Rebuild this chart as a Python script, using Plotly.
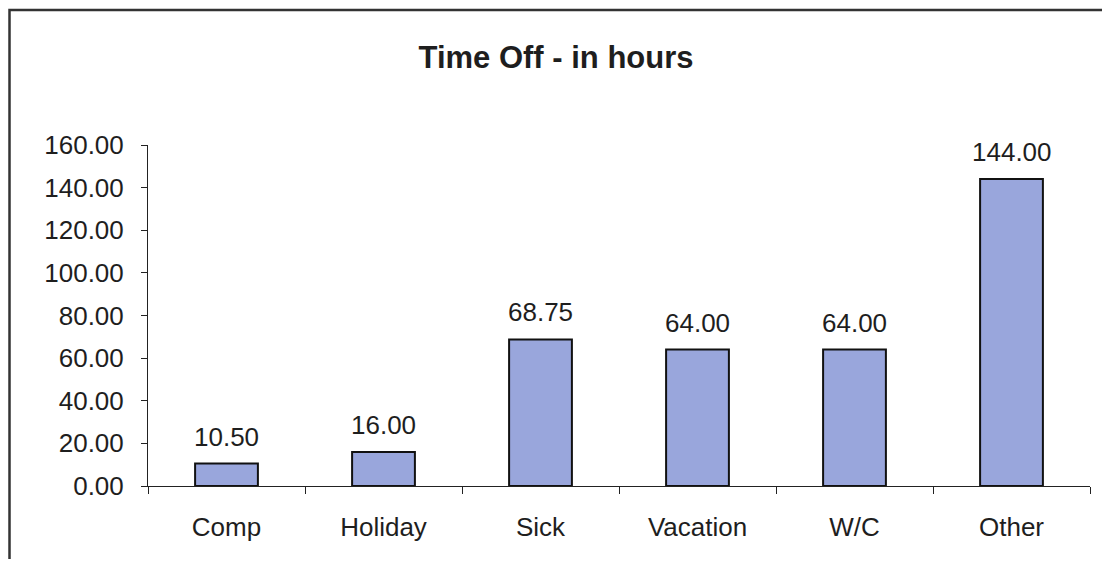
import plotly.graph_objects as go

categories = ["Comp", "Holiday", "Sick", "Vacation", "W/C", "Other"]
hours = [10.50, 16.00, 68.75, 64.00, 64.00, 144.00]
y_ticks = [0, 20, 40, 60, 80, 100, 120, 140, 160]
title_text = "Time Off - in hours"

FONT = "Liberation Sans, Arial, sans-serif"
TXT = "#1e1e1e"

# page body has an 8px margin; figure is placed at (8, 8)
OFF = 8
W, H = 1094, 551
L, R, T = 148 - OFF, (OFF + W) - 1090, 145 - OFF
B = H - (486 - OFF)
PW, PH = W - L - R, H - T - B

fig = go.Figure()
fig.add_trace(go.Bar(
    x=categories, y=hours,
    marker=dict(color="#99A6DC", line=dict(color="#111111", width=2)),
    hoverinfo="x+y",
))

for c, v in zip(categories, hours):
    fig.add_annotation(x=c, y=v, text=f"{v:.2f}", showarrow=False,
                       yanchor="bottom", yshift=10,
                       font=dict(family=FONT, size=26, color=TXT))

fig.update_layout(
    width=W, height=H,
    margin=dict(l=L, r=R, t=T, b=B),
    paper_bgcolor="white", plot_bgcolor="white",
    bargap=0.6,
    showlegend=False,
    title=dict(text=title_text, x=(556 - 148) / PW, xref="paper", xanchor="center",
               y=1 - (57 - OFF) / H, yref="container", yanchor="middle",
               font=dict(family=FONT, size=31, color=TXT, weight="bold")),
    font=dict(family=FONT, size=26, color=TXT),
)

fig.update_xaxes(
    type="category", tickson="boundaries", ticks="outside", ticklen=7,
    tickcolor="#222", showline=True, linecolor="#222", linewidth=1,
    showgrid=False, ticklabelstandoff=18,
    tickfont=dict(family=FONT, size=26, color=TXT),
)
fig.update_yaxes(
    range=[0, 160], tickvals=y_ticks, tickformat=".2f", ticks="outside",
    ticklen=6, tickcolor="#222", showline=True, linecolor="#222", linewidth=1,
    showgrid=False, zeroline=False, ticklabelstandoff=12,
    tickfont=dict(family=FONT, size=26, color=TXT),
)

# outer chart frame (left edge as close to page x=5 as the figure allows)
fig.add_shape(type="rect", xref="paper", yref="paper",
              x0=(1.5 - L) / PW, x1=(W + 20 - L) / PW,
              y0=(486 - 590) / PH, y1=(486 - 10) / PH,
              line=dict(color="#333333", width=2.5), fillcolor="rgba(0,0,0,0)",
              layer="below")

fig.write_html("out.html")
